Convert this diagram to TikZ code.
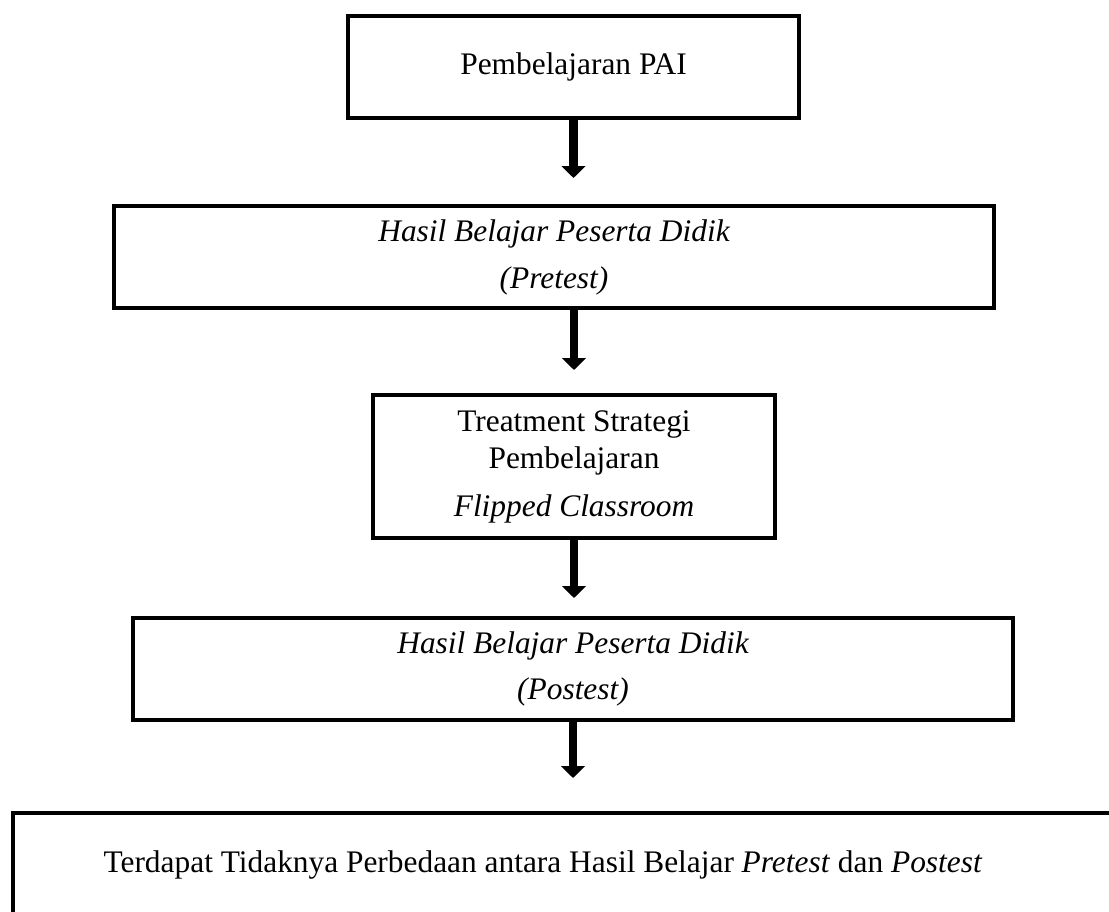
\documentclass[tikz,border=0pt]{standalone}
\usepackage{fontspec}
\setmainfont{Liberation Serif}
\usetikzlibrary{arrows.meta}

\begin{document}
\begin{tikzpicture}[x=0.36pt, y=-0.36pt,
  box/.style={draw, line width=1.45pt, rectangle, align=center, inner sep=0pt,
    font=\fontsize{11.3}{13.3}\selectfont},
  flow/.style={line width=2.9pt, -{Triangle[width=8.5pt,length=4.3pt]}}]

  \useasboundingbox (0,0) rectangle (1109,911);
  \clip (0,0) rectangle (1109,911);

  % Boxes, top to bottom
  \node[box, minimum width=451*0.36pt, minimum height=102*0.36pt] (pai) at (573.5,67)
    {Pembelajaran PAI};
  \node[box, minimum width=880*0.36pt, minimum height=102*0.36pt] (pre) at (554,257)
    {\itshape Hasil Belajar Peserta Didik\\[3.6pt] \itshape (Pretest)};
  \node[box, minimum width=402*0.36pt, minimum height=143*0.36pt] (treat) at (574,466.5)
    {Treatment Strategi\\ Pembelajaran\\[4pt] \itshape Flipped Classroom};
  \node[box, minimum width=880*0.36pt, minimum height=102*0.36pt] (post) at (573,669)
    {\itshape Hasil Belajar Peserta Didik\\[3.3pt] \itshape (Postest)};
  \node[box, minimum width=1200*0.36pt, minimum height=120*0.36pt] (hasil) at (613,873) {};
  \node[font=\fontsize{11.3}{13.3}\selectfont, inner sep=0pt] (beda) at (543,865)
    {Terdapat Tidaknya Perbedaan antara Hasil Belajar \textit{Pretest} dan \textit{Postest}};

  % Arrows
  \draw[flow, shorten >=9.36pt] (pai.south) -- (pai.south |- pre.north);
  \draw[flow, shorten >=8.28pt] (pre.south -| treat.north) -- (treat.north);
  \draw[flow, shorten >=6.48pt] (treat.south) -- (treat.south |- post.north);
  \draw[flow, shorten >=11.88pt] (post.south) -- (post.south |- hasil.north);

\end{tikzpicture}
\end{document}
